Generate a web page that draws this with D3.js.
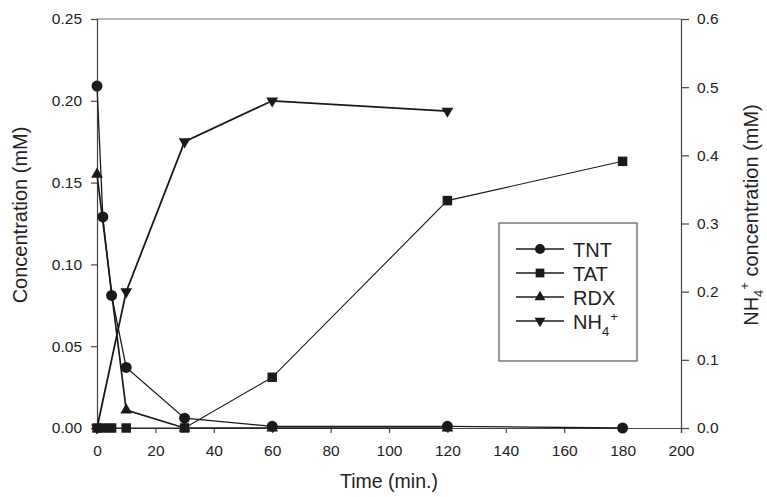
<!DOCTYPE html>
<html>
<head>
<meta charset="utf-8">
<script src="https://cdn.jsdelivr.net/npm/d3@7"></script>
<style>
  body { margin: 0; background: #fff; }
  svg { font-family: Arial, "Liberation Sans", Helvetica, sans-serif; }
</style>
</head>
<body>
<div id="chart"></div>
<script>
// data
const tntTime = [0, 2, 5, 10, 30, 60, 120, 180];
const tntConc = [0.209, 0.129, 0.081, 0.037, 0.006, 0.001, 0.001, 0.0];
const tatTime = [0, 2, 5, 10, 30, 60, 120, 180];
const tatConc = [0, 0, 0, 0, 0, 0.031, 0.139, 0.163];
const rdxTime = [0, 10, 30, 60, 120];
const rdxConc = [0.155, 0.011, 0, 0, 0];
const nh4Time = [0, 10, 30, 60, 120];
const nh4Conc = [0.0, 0.2, 0.42, 0.48, 0.465];
const xTicks = [0, 20, 40, 60, 80, 100, 120, 140, 160, 180, 200];
const yLeftTicks = [0, 0.05, 0.10, 0.15, 0.20, 0.25];
const yRightTicks = [0, 0.1, 0.2, 0.3, 0.4, 0.5, 0.6];
const legendNames = ["TNT", "TAT", "RDX", "NH4+"];

const msm = { width: 767, height: 497, left: 97, right: 681, top: 19, bottom: 428 };
const ink = "#1a1a1a";

let svg = d3.select("#chart").append("svg")
    .attr("width", msm.width)
    .attr("height", msm.height);

let x = d3.scaleLinear().domain([0, 200]).range([msm.left, msm.right]);
let yL = d3.scaleLinear().domain([0, 0.25]).range([msm.bottom, msm.top]);
let yR = d3.scaleLinear().domain([0, 0.6]).range([msm.bottom, msm.top]);

// top frame line
svg.append("line")
    .attr("x1", msm.left).attr("x2", msm.right)
    .attr("y1", msm.top).attr("y2", msm.top)
    .attr("stroke", "#777").attr("stroke-width", 1.2);

// axes
function styleAxis(g) {
    g.selectAll("path").attr("stroke", "#444").attr("stroke-width", 1.2);
    g.selectAll("line").attr("stroke", "#444").attr("stroke-width", 1.2);
    g.selectAll("text").attr("fill", "#222").style("font-size", "15.5px")
        .style("font-family", "Arial, 'Liberation Sans', sans-serif");
}

svg.append("g")
    .attr("transform", "translate(0," + msm.bottom + ")")
    .call(d3.axisBottom(x).tickValues(xTicks).tickFormat(d3.format("d")).tickSizeOuter(0).tickSize(5).tickPadding(12))
    .call(styleAxis);

svg.append("g")
    .attr("transform", "translate(" + msm.left + ",0)")
    .call(d3.axisLeft(yL).tickValues(yLeftTicks).tickFormat(d3.format(".2f")).tickSizeOuter(0).tickSize(6).tickPadding(9))
    .call(styleAxis);

svg.append("g")
    .attr("transform", "translate(" + msm.right + ",0)")
    .call(d3.axisRight(yR).tickValues(yRightTicks).tickFormat(d3.format(".1f")).tickSizeOuter(0).tickSize(8).tickPadding(8))
    .call(styleAxis);

// series
const series = [
    { t: tntTime, v: tntConc, y: yL, sym: d3.symbolCircle, size: 95, rot: 0, w: 1.3 },
    { t: tatTime, v: tatConc, y: yL, sym: d3.symbolSquare, size: 90, rot: 0, w: 1.1 },
    { t: rdxTime, v: rdxConc, y: yL, sym: d3.symbolTriangle, size: 60, rot: 0, w: 1.7 },
    { t: nh4Time, v: nh4Conc, y: yR, sym: d3.symbolTriangle, size: 60, rot: 180, w: 1.8 }
];

series.forEach(s => {
    let pts = s.t.map((t, i) => [t, s.v[i]]);
    svg.append("path")
        .datum(pts)
        .attr("fill", "none")
        .attr("stroke", ink)
        .attr("stroke-width", s.w)
        .attr("d", d3.line().x(d => x(d[0])).y(d => s.y(d[1])));
    svg.selectAll(null)
        .data(pts)
        .enter()
        .append("path")
        .attr("d", d3.symbol().type(s.sym).size(s.size))
        .attr("transform", d => "translate(" + x(d[0]) + "," + s.y(d[1]) + ") rotate(" + s.rot + ")")
        .attr("fill", ink);
});

// legend
let legend = svg.append("g");
legend.append("rect")
    .attr("x", 499).attr("y", 223).attr("width", 138).attr("height", 138)
    .attr("fill", "white").attr("stroke", "#555").attr("stroke-width", 1.2);

const legendY = [249, 273, 297, 321];
legendNames.forEach((name, i) => {
    let s = series[i];
    let ly = legendY[i];
    legend.append("line")
        .attr("x1", 516).attr("x2", 564).attr("y1", ly).attr("y2", ly)
        .attr("stroke", ink).attr("stroke-width", 1.5);
    legend.append("path")
        .attr("d", d3.symbol().type(s.sym).size(s.size * 0.85))
        .attr("transform", "translate(540," + ly + ") rotate(" + s.rot + ")")
        .attr("fill", ink);
    let txt = legend.append("text")
        .attr("x", 573).attr("y", ly + 8)
        .attr("fill", "#222")
        .style("font-size", "20px");
    if (name === "NH4+") {
        txt.append("tspan").text("NH");
        txt.append("tspan").attr("dy", 7).style("font-size", "13px").text("4");
        txt.append("tspan").attr("dy", -15).attr("dx", 1).style("font-size", "13px").text("+");
    } else {
        txt.text(name);
    }
});

// axis titles
svg.append("text")
    .attr("x", 389).attr("y", 488)
    .attr("text-anchor", "middle")
    .attr("fill", "#222")
    .style("font-size", "19.5px")
    .text("Time (min.)");

svg.append("text")
    .attr("transform", "translate(27,215) rotate(-90)")
    .attr("text-anchor", "middle")
    .attr("fill", "#222")
    .style("font-size", "20px")
    .text("Concentration (mM)");

let rt = svg.append("text")
    .attr("transform", "translate(758,215) rotate(-90)")
    .attr("text-anchor", "middle")
    .attr("fill", "#222")
    .style("font-size", "20px");
rt.append("tspan").text("NH");
rt.append("tspan").attr("dy", 5).style("font-size", "13px").text("4");
rt.append("tspan").attr("dy", -14).style("font-size", "13px").text("+");
rt.append("tspan").attr("dy", 9).text(" concentration (mM)");
</script>
</body>
</html>
